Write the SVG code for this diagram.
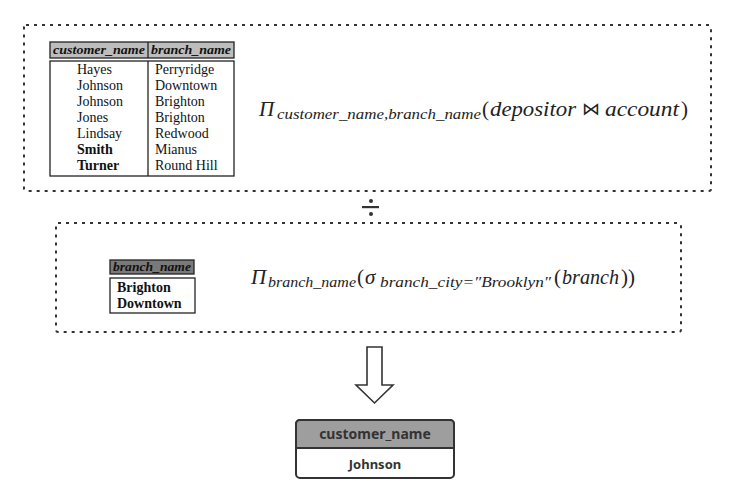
<svg xmlns="http://www.w3.org/2000/svg" width="737" height="503" viewBox="0 0 737 503">
<style>
.dot{fill:none;stroke:#333;stroke-width:2;stroke-dasharray:3 5}
.tb{fill:#fff;stroke:#222;stroke-width:1.3}
.th{stroke:#222;stroke-width:1.3}
.cell{font-family:"Liberation Serif",serif;font-size:14px;fill:#111}
.hd{font-family:"Liberation Serif",serif;font-size:12px;font-style:italic;font-weight:bold;fill:#111}
.m{font-family:"Liberation Serif","DejaVu Serif",serif;font-style:italic;fill:#222}
.big{font-size:21px}
.sub{font-size:14px}
.up{font-style:normal}
.rel{font-family:"DejaVu Sans",sans-serif;font-style:normal;font-weight:200;font-size:18px}
.rt{font-family:"Noto Sans","Liberation Sans",sans-serif;font-weight:bold;fill:#333;text-anchor:middle}
</style>
<rect width="737" height="503" fill="#fff"/>
<g id="expr1">
<rect class="dot" x="24" y="25" width="687" height="166" rx="2"/>
<g id="table1">
<rect class="th" x="50" y="42" width="184" height="16" fill="#bdbdbd"/>
<line class="th" x1="148" y1="42" x2="148" y2="58"/>
<text class="hd" x="53" y="54" textLength="92" lengthAdjust="spacingAndGlyphs">customer_name</text>
<text class="hd" x="151" y="54" textLength="80" lengthAdjust="spacingAndGlyphs">branch_name</text>
<rect class="tb" x="50" y="61" width="184" height="115"/>
<line class="th" x1="148" y1="61" x2="148" y2="176"/>
<g class="cell">
<text x="77" y="74">Hayes</text>
<text x="77" y="90">Johnson</text>
<text x="77" y="106">Johnson</text>
<text x="77" y="122">Jones</text>
<text x="77" y="138">Lindsay</text>
<text x="77" y="154" font-weight="bold">Smith</text>
<text x="77" y="170" font-weight="bold">Turner</text>
<text x="155" y="74">Perryridge</text>
<text x="155" y="90">Downtown</text>
<text x="155" y="106">Brighton</text>
<text x="155" y="122">Brighton</text>
<text x="155" y="138">Redwood</text>
<text x="155" y="154">Mianus</text>
<text x="155" y="170">Round Hill</text>
</g>
</g>
<text class="m"><tspan class="big" x="259" y="116">Π</tspan><tspan class="sub" x="277" y="119" textLength="204" lengthAdjust="spacingAndGlyphs">customer_name,branch_name</tspan><tspan class="big up" x="482" y="116">(</tspan><tspan class="big" x="490" y="116" textLength="86" lengthAdjust="spacingAndGlyphs">depositor</tspan><tspan class="rel" x="582" y="115">⋈</tspan><tspan class="big" x="605" y="116" textLength="74" lengthAdjust="spacingAndGlyphs">account</tspan><tspan class="big up" x="681" y="116">)</tspan></text>
</g>
<g id="divide">
<circle cx="371" cy="201" r="2" fill="#333"/>
<rect x="362" y="206" width="17" height="2.2" fill="#333"/>
<circle cx="371" cy="214" r="2" fill="#333"/>
</g>
<g id="expr2">
<rect class="dot" x="56" y="223" width="625" height="109" rx="2"/>
<g id="table2">
<rect class="th" x="110" y="260" width="84" height="14" fill="#7a7a7a"/>
<text class="hd" x="113" y="271" textLength="78" lengthAdjust="spacingAndGlyphs">branch_name</text>
<rect class="tb" x="110" y="278" width="85" height="35" stroke-width="1.6"/>
<text class="cell" x="117" y="292" font-weight="bold">Brighton</text>
<text class="cell" x="117" y="308" font-weight="bold">Downtown</text>
</g>
<text class="m"><tspan class="big" x="251" y="284">Π</tspan><tspan class="sub" x="268" y="287" textLength="88" lengthAdjust="spacingAndGlyphs">branch_name</tspan><tspan class="big up" x="357" y="284">(</tspan><tspan class="big" x="365" y="284">σ</tspan><tspan class="sub" x="380" y="287" textLength="171" lengthAdjust="spacingAndGlyphs">branch_city=″Brooklyn″</tspan><tspan class="big up" x="554" y="284">(</tspan><tspan class="big" x="562" y="284" textLength="57" lengthAdjust="spacingAndGlyphs">branch</tspan><tspan class="big up" x="621" y="284">))</tspan></text>
</g>
<g id="connectors">
<path d="M367,347 H382 V385 H393 L374.5,403 L356,385 H367 Z" fill="#fff" stroke="#333" stroke-width="1.6" stroke-linejoin="miter"/>
</g>
<g id="result">
<rect x="296" y="420" width="158" height="58" rx="4" fill="#fff" stroke="#333" stroke-width="2"/>
<path d="M296,448 V424 A4,4 0 0 1 300,420 H450 A4,4 0 0 1 454,424 V448 Z" fill="#9e9e9e" stroke="#333" stroke-width="2"/>
<text class="rt" x="375" y="439" font-size="14">customer_name</text>
<text class="rt" x="375" y="469" font-size="13">Johnson</text>
</g>
</svg>
